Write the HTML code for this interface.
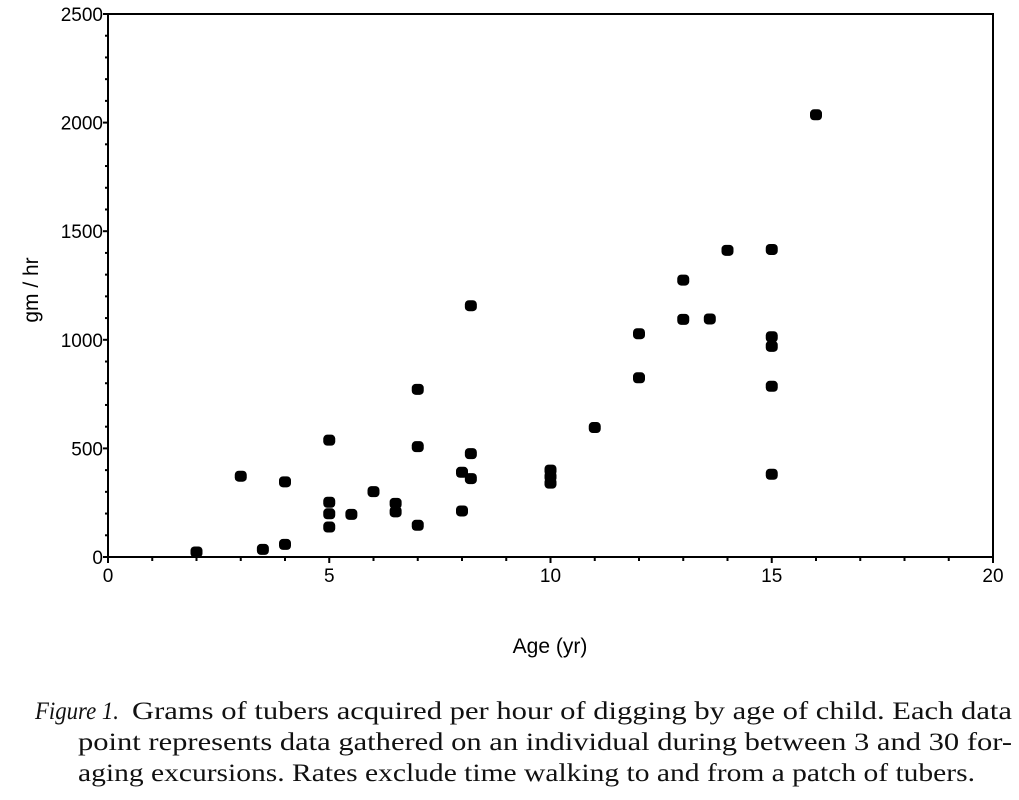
<!DOCTYPE html>
<html><head><meta charset="utf-8"><style>
body{margin:0;background:#fff;width:1019px;height:800px;overflow:hidden;font-family:"Liberation Sans",sans-serif}
</style></head><body>
<svg id="chart" width="1019" height="690" style="position:absolute;left:0;top:0" font-family="Liberation Sans, sans-serif"></svg>
<svg width="1019" height="110" style="position:absolute;left:0;top:690px" font-family="Liberation Serif, serif" font-size="25" fill="#111">
<text x="35" y="29" font-style="italic" textLength="84" lengthAdjust="spacingAndGlyphs">Figure 1.</text>
<text x="132" y="29" textLength="880" lengthAdjust="spacingAndGlyphs">Grams of tubers acquired per hour of digging by age of child. Each data</text>
<text x="78" y="60" textLength="934" lengthAdjust="spacingAndGlyphs">point represents data gathered on an individual during between 3 and 30 for-</text>
<text x="78" y="91" textLength="897" lengthAdjust="spacingAndGlyphs">aging excursions. Rates exclude time walking to and from a patch of tubers.</text>
</svg>
<script>
const ages=[2,3,4,3.5,4,5,5,5,5,5.5,6,6.5,6.5,7,7,7,8,8,8.2,8.2,8.2,16,14,15,13,13,13.6,12,12,11,10,10,10,15,15,15,15];
const rates=[23,372,346,35,58,538,252,199,138,196,301,247,208,772,508,146,390,212,476,361,1157,2036,1412,1416,1275,1094,1096,1028,825,596,400,370,340,1014,970,786,381];
const xTicks=[0,5,10,15,20];
const yTicks=[0,500,1000,1500,2000,2500];
const L=108,R=993,T=14,B=557;
const sx=v=>L+(v/20)*(R-L), sy=v=>B-(v/2500)*(B-T);
const svg=document.getElementById('chart');const NS='http://www.w3.org/2000/svg';
function mk(t,a,p){const e=document.createElementNS(NS,t);for(const k in a)e.setAttribute(k,a[k]);(p||svg).appendChild(e);return e;}
const frame=mk('rect',{x:L,y:T,width:R-L,height:B-T,fill:'none',stroke:'#000','stroke-width':2});


for(let i=0;i<=20;i++){const t=mk('line',{x1:sx(i),x2:sx(i),y1:B,y2:B+(i%5==0?6:4),stroke:'#000','stroke-width':2});

}
for(let v=0;v<=2500;v+=100){const t=mk('line',{x1:L-(v%500==0?5:3),x2:L,y1:sy(v),y2:sy(v),stroke:'#000','stroke-width':2});

}
xTicks.forEach(v=>{const t=mk('text',{x:sx(v),y:B+25,'text-anchor':'middle','font-size':19});t.textContent=v;

});
yTicks.forEach(v=>{const t=mk('text',{x:L-5,y:sy(v)+7,'text-anchor':'end','font-size':19});t.textContent=v;

});
ages.forEach((a,i)=>{const p=mk('rect',{x:sx(a)-6,y:sy(rates[i])-5.5,width:12,height:11,rx:4,fill:'#000'});

});
const xt=mk('text',{x:550,y:653,'text-anchor':'middle','font-size':21});xt.textContent='Age (yr)';


const yt=mk('text',{x:0,y:0,'text-anchor':'middle','font-size':21,transform:'translate(38,290) rotate(-90)'});yt.textContent='gm / hr';


</script>
</body></html>
